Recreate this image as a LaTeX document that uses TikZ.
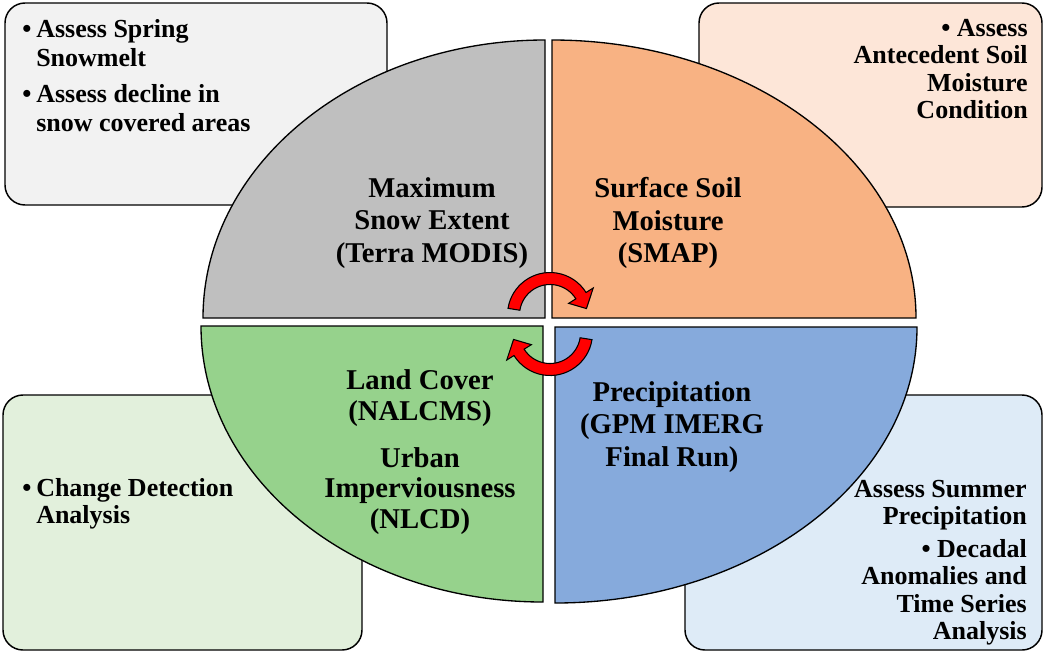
\documentclass[tikz,border=0pt]{standalone}
\usepackage{fontspec}
\setmainfont{Liberation Serif}
\usepackage{xcolor}
\usetikzlibrary{calc}

\definecolor{snowgray}{HTML}{BFBFBF}
\definecolor{soilorange}{HTML}{F8B283}
\definecolor{landgreen}{HTML}{96D28C}
\definecolor{rainblue}{HTML}{86AADC}
\definecolor{snowpale}{HTML}{F2F2F2}
\definecolor{soilpale}{HTML}{FDE6D8}
\definecolor{landpale}{HTML}{E2F0DC}
\definecolor{rainpale}{HTML}{DEEBF7}

\newcommand{\bul}{\makebox[10.5pt][l]{\textbullet}}
\newcommand{\ind}{\hspace*{10.5pt}}

\begin{document}
\begin{tikzpicture}[x=0.75pt, y=-0.75pt,
  panel/.style={draw=black, line width=1.1pt, rounded corners=15pt},
  quarter/.style={draw=black, line width=1pt},
  boxtext/.style={inner sep=0pt, font=\bfseries\fontsize{19.5}{20.5}\selectfont},
  quadtext/.style={inner sep=0pt, align=center, font=\bfseries\fontsize{21.5}{24.4}\selectfont},
  cycarrow/.style={fill=red, draw=black, line width=0.8pt}]
\useasboundingbox (0,0) rectangle (1045,654);

\filldraw[panel, fill=snowpale] (5,3) rectangle (387,205);
\filldraw[panel, fill=soilpale] (699,3) rectangle (1042,207);
\filldraw[panel, fill=landpale] (3,395) rectangle (362,650);
\filldraw[panel, fill=rainpale] (685,395) rectangle (1042,650);

\filldraw[quarter, fill=snowgray] (545,318) -- (203,318) arc[start angle=180, end angle=270, x radius=342, y radius=278] -- cycle;
\filldraw[quarter, fill=soilorange] (552,318) -- (552,40) arc[start angle=270, end angle=360, x radius=364, y radius=278] -- cycle;
\filldraw[quarter, fill=landgreen] (543,326) -- (201,326) arc[start angle=180, end angle=90, x radius=342, y radius=276] -- cycle;
\filldraw[quarter, fill=rainblue] (555,327) -- (917,327) arc[start angle=0, end angle=90, x radius=362, y radius=276] -- cycle;

\coordinate (ctop) at (550,315);
\coordinate (cbot) at (550,333);
\filldraw[cycarrow] ($(ctop)+(189:42.5)$) arc[start angle=189, end angle=328, radius=42.5] -- ($(ctop)+(328:51)$) -- ($(ctop)+(350:37)$) -- ($(ctop)+(328:22)$) -- ($(ctop)+(328:30.5)$) arc[start angle=328, end angle=189, radius=30.5] -- cycle;
\filldraw[cycarrow] ($(cbot)+(9:42.5)$) arc[start angle=9, end angle=148, radius=42.5] -- ($(cbot)+(148:51)$) -- ($(cbot)+(170:37)$) -- ($(cbot)+(148:22)$) -- ($(cbot)+(148:30.5)$) arc[start angle=148, end angle=9, radius=30.5] -- cycle;

\node (snowtext) [quadtext] at (432,223) {Maximum\\Snow Extent\\(Terra MODIS)};
\node (soiltext) [quadtext] at (668,223) {Surface Soil\\Moisture\\(SMAP)};
\node (landtext) [quadtext, font=\bfseries\fontsize{21.5}{22.8}\selectfont] at (420,452) {Land Cover\\(NALCMS)\\[12.5pt]Urban\\Imperviousness\\(NLCD)};
\node (raintext) [quadtext] at (672,427) {Precipitation\\(GPM IMERG\\Final Run)};

\node (snowuse) [boxtext, anchor=north west, align=left] at (22,19) {\bul Assess Spring\\[1.5pt]\ind Snowmelt\\[6.5pt]\bul Assess decline in\\[1.5pt]\ind snow covered areas};
\node (soiluse) [boxtext, anchor=north east, align=right] at (1028,19) {\textbullet\ Assess\\Antecedent Soil\\Moisture\\Condition};
\node (landuse) [boxtext, anchor=north west, align=left] at (22,478) {\bul Change Detection\\\ind Analysis};
\node (rainuse) [boxtext, anchor=north east, align=right] at (1027,480) {Assess Summer\\Precipitation\\[4pt]\textbullet\ Decadal\\Anomalies and\\Time Series\\Analysis};
\end{tikzpicture}
\end{document}
